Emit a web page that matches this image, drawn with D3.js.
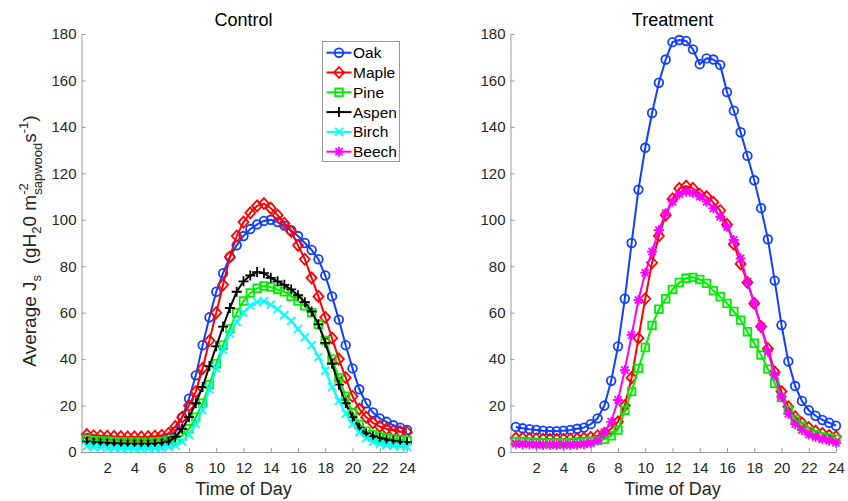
<!DOCTYPE html>
<html>
<head>
<meta charset="utf-8">
<script src="https://cdn.jsdelivr.net/npm/d3@7"></script>
<style>
  body { margin: 0; background: #fff; }
  svg { display: block; font-family: "Liberation Sans", Arial, sans-serif; }
</style>
</head>
<body>
<div id="cont"></div>
<script>
// Data (half-hour steps, 0.5 .. 24)
var hours = [0.5,1,1.5,2,2.5,3,3.5,4,4.5,5,5.5,6,6.5,7,7.5,8,8.5,9,9.5,10,10.5,11,11.5,12,
             12.5,13,13.5,14,14.5,15,15.5,16,16.5,17,17.5,18,18.5,19,19.5,20,20.5,21,21.5,22,22.5,23,23.5,24];

var ctrlOak   = [6,5.5,5,5,4.8,4.6,4.5,4.4,4.3,4.3,4.4,4.8,6,9,15,23,33,46,58,69,77,84,89,93,
                 96,98,99.5,100,99,97.5,95.5,93,90,87,83,76,67,57,46,36,27,21,17,14.5,13,11.5,10.5,9.5];
var ctrlMaple = [7.5,7,7,6.8,6.7,6.6,6.5,6.5,6.5,6.6,6.8,7.2,8,11,15,20,26,36,48,60,72,84,93,99,
                 103,106,107,105,102,98.5,95,89,83,75,67,58,49,40,32,24,18.5,15,12.5,11,10,9.2,8.8,8.5];
var ctrlPine  = [5.5,5,4.8,4.6,4.5,4.4,4.3,4.2,4.2,4.2,4.3,4.5,5,5.5,7,10,15,21,29,38,46,53,60,65,
                 68.5,70.5,71.5,71,70,69,67,65,63,60,55,48,40,32,24,17,12,9,7.5,6.5,6,5.5,5.2,5];
var ctrlAspen = [4.5,4.2,4,3.8,3.7,3.6,3.5,3.5,3.5,3.5,3.6,3.8,4.5,6.5,10,15,21,28,37,45.5,54,62,69,73.5,
                 76,77.5,77,75,73.5,72,70,67.5,64.5,60.5,55,47,38,29,21,15,10.5,8,6.8,6,5.3,4.8,4.4,4.2];
var ctrlBirch = [2.5,2.2,2,1.8,1.7,1.6,1.6,1.5,1.5,1.5,1.6,1.8,2.2,3,4.5,7.5,12,18,27,36,44,51,56,60,
                 63,64.5,65,63.5,61.5,59,56.5,53,49.5,46,41,35,28,22,16.5,12,8.5,6,4.5,3.5,3,2.6,2.4,2.2];

var trtOak    = [10.8,10.2,9.8,9.5,9.2,9,9,9.2,9.5,10,10.5,12,14.5,20,30.7,45.5,66,90,113,131,146,159,169,176.5,
                 177.4,177,173.4,167,169.5,169,166.7,155,147,137.7,127.5,117,105,91.6,73.8,54.7,39,28.4,22,18,15.6,13.8,12.6,11.3];
var trtMaple  = [6,6,5.8,5.7,5.6,5.5,5.5,5.5,5.6,5.8,6,6.3,7,8,10,13,20,32,49,66,81.5,93,102,109,
                 113.5,114.5,113.5,111,110,107.5,104,98,89.5,81,73,64,54,44.5,34.5,26,19.5,15.2,12.5,10.5,9,8,7.2,6.6];
var trtPine   = [4.5,4.3,4.2,4,4,3.9,3.9,3.9,4,4.1,4.3,4.6,5,5.5,7,9.5,18,26,36,45,54.5,61.5,66,70,
                 73,74.8,75.2,74.3,72.6,69.5,66.9,64,60.5,56.8,51.8,46.8,41.8,35.7,29.6,23.5,18,14,11,9,7.5,6.5,6,5.5];
var trtBeech  = [3.5,3.3,3.2,3.1,3,3,3,3,3,3.1,3.3,3.8,5,8.5,13,22.4,35.3,50.4,65.5,77.2,86.3,95.6,102.8,107.8,
                 111,112.1,111.5,110,107.8,105,101.3,97,91.3,83.4,73.3,64,54,43.2,33.2,23.8,16.5,12,9.5,7.5,6.5,5.5,4.8,4];

var species   = ["Oak", "Maple", "Pine", "Aspen", "Birch", "Beech"];
var colors    = {Oak: "#1040ff", Maple: "#ff0000", Pine: "#00ee00", Aspen: "#000000", Birch: "#00ffff", Beech: "#ff00ff"};
var markers   = {Oak: "circle", Maple: "diamond", Pine: "square", Aspen: "plus", Birch: "cross", Beech: "star"};

var xTicks = [2,4,6,8,10,12,14,16,18,20,22,24];
var yTicks = [0,20,40,60,80,100,120,140,160,180];

var control   = [["Oak", ctrlOak], ["Maple", ctrlMaple], ["Pine", ctrlPine], ["Aspen", ctrlAspen], ["Birch", ctrlBirch]];
var treatment = [["Oak", trtOak], ["Maple", trtMaple], ["Pine", trtPine], ["Beech", trtBeech]];

// SVG container
var svg = d3.select("#cont").append("svg")
    .attr("width", 848)
    .attr("height", 501);

var axisColor = "#9a9a9a";
var textColor = "#262626";

var markerPath = function(type) {
    var r = 4.3;
    switch (type) {
        case "circle":  return "M" + (-r) + ",0a" + r + "," + r + " 0 1,0 " + (2*r) + ",0a" + r + "," + r + " 0 1,0 " + (-2*r) + ",0Z";
        case "diamond": return "M0,-5.5L5,0L0,5.5L-5,0Z";
        case "square":  return "M-3.8,-3.8H3.8V3.8H-3.8Z";
        case "plus":    return "M-5,0H5M0,-5V5";
        case "cross":   return "M-4,-4L4,4M-4,4L4,-4";
        case "star":    return "M-5,0H5M0,-5V5M-3.6,-3.6L3.6,3.6M-3.6,3.6L3.6,-3.6";
    }
};

var drawPanel = function(x0, title, series) {
    var x = d3.scaleLinear().domain([0, 24]).range([x0, x0 + 327]);
    var y = d3.scaleLinear().domain([0, 180]).range([452, 34]);

    var g = svg.append("g");

    // axes
    var ax = g.append("g")
        .attr("transform", "translate(0,452)")
        .call(d3.axisBottom(x).tickValues(xTicks).tickSizeInner(-4).tickSizeOuter(0).tickPadding(10.5));
    var ay = g.append("g")
        .attr("transform", "translate(" + (x0 + 1.5) + ",0)")
        .call(d3.axisLeft(y).tickValues(yTicks).tickSizeInner(-4).tickSizeOuter(0).tickPadding(5));

    [ax, ay].forEach(function(a) {
        a.select(".domain").attr("stroke", axisColor);
        a.selectAll(".tick line").attr("stroke", axisColor);
        a.selectAll(".tick text").attr("fill", textColor)
            .style("font-size", "15px")
            .style("font-family", "'Liberation Sans', Arial, sans-serif");
    });

    g.append("text")
        .attr("x", x0 + 163.5).attr("y", 26)
        .attr("text-anchor", "middle")
        .attr("fill", "#000")
        .style("font-size", "18px")
        .text(title);

    g.append("text")
        .attr("x", x0 + 163.5).attr("y", 495)
        .attr("text-anchor", "middle")
        .attr("fill", textColor)
        .style("font-size", "18px")
        .text("Time of Day");

    var line = d3.line()
        .x(function(d) { return x(d[0]); })
        .y(function(d) { return y(d[1]); });

    series.forEach(function(s) {
        var name = s[0];
        var pts = hours.map(function(h, i) { return [h, s[1][i]]; });
        var sg = g.append("g").attr("class", "series-" + name);
        sg.append("path")
            .attr("d", line(pts))
            .attr("fill", "none")
            .attr("stroke", colors[name])
            .attr("stroke-width", 2);
        sg.selectAll("path.mk")
            .data(pts)
            .enter().append("path")
            .attr("class", "mk")
            .attr("transform", function(d) { return "translate(" + x(d[0]) + "," + y(d[1]) + ")"; })
            .attr("d", markerPath(markers[name]))
            .attr("fill", "none")
            .attr("stroke", colors[name])
            .attr("stroke-width", 1.8);
    });
};

drawPanel(80, "Control", control);
drawPanel(509, "Treatment", treatment);

// y label with sub/superscripts
var ylab = svg.append("text")
    .attr("transform", "translate(36,241) rotate(-90)")
    .attr("text-anchor", "middle")
    .attr("fill", textColor)
    .style("font-size", "19px");
ylab.append("tspan").text("Average J");
ylab.append("tspan").attr("dy", 5).style("font-size", "13px").text("s");
ylab.append("tspan").attr("dy", -5).text("\u00a0 (gH");
ylab.append("tspan").attr("dy", 5).style("font-size", "13px").text("2");
ylab.append("tspan").attr("dy", -5).text("0 m");
var sup2 = ylab.append("tspan").attr("dy", -8.5).style("font-size", "13px").text("-2");
var subSap = ylab.append("tspan").attr("dy", 14).style("font-size", "13px").text("sapwood");
ylab.append("tspan").attr("dy", -5.5).text("s");
ylab.append("tspan").attr("dy", -8.5).style("font-size", "13px").text("-1");
ylab.append("tspan").attr("dy", 8.5).text(")");
subSap.attr("dx", -sup2.node().getComputedTextLength());

// legend
var legend = svg.append("g").attr("transform", "translate(322.5,41.5)");
legend.append("rect")
    .attr("width", 77).attr("height", 120)
    .attr("fill", "#fff")
    .attr("stroke", axisColor)
    .attr("stroke-width", 1);
species.forEach(function(name, i) {
    var ly = 11.2 + i * 19.8;
    var row = legend.append("g");
    row.append("line")
        .attr("x1", 4).attr("x2", 29).attr("y1", ly).attr("y2", ly)
        .attr("stroke", colors[name]).attr("stroke-width", 2);
    row.append("path")
        .attr("transform", "translate(16.5," + ly + ")")
        .attr("d", markerPath(markers[name]))
        .attr("fill", "none")
        .attr("stroke", colors[name])
        .attr("stroke-width", 1.8);
    row.append("text")
        .attr("x", 30.5).attr("y", ly)
        .attr("dy", "0.36em")
        .attr("fill", "#000")
        .style("font-size", "15.5px")
        .text(name);
});
</script>
</body>
</html>
